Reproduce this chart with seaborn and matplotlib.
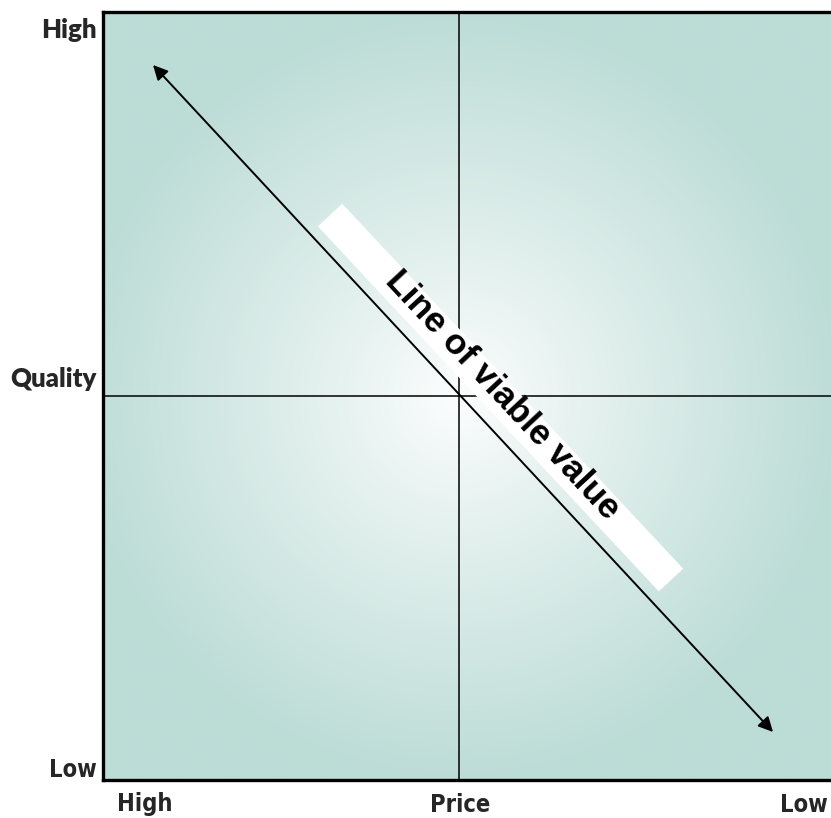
import numpy as np
import pandas as pd
import matplotlib
matplotlib.use("Agg")
import matplotlib.pyplot as plt
from matplotlib.colors import LinearSegmentedColormap
import seaborn as sns

# ---- chart content ----
x_labels = ["High", "Price", "Low"]          # price axis (high on the left)
y_labels = ["High", "Quality", "Low"]        # quality axis (high on top)
x_range = [0, 732]
y_range = [0, 768]
cross_x = 356
cross_y = 384
arrow_start = [50, 715]
arrow_end = [670, 48]
band_x = [227, 568]
band_y = [565, 200]
band_text = "Line of viable value"

sns.set_theme(style="white")
plt.rcParams["font.family"] = ["Liberation Sans", "DejaVu Sans"]

W, H = 831, 818
fig = plt.figure(figsize=(W / 100, H / 100), dpi=100)
ax_left, ax_right, ax_top, ax_bot = 103, 835, 12, 780
ax = fig.add_axes([ax_left / W, 1 - ax_bot / H, (ax_right - ax_left) / W, (ax_bot - ax_top) / H])
ax.set_xlim(*x_range)
ax.set_ylim(*y_range)

# radial gradient background
gx = np.linspace(x_range[0], x_range[1], 400)
gy = np.linspace(y_range[0], y_range[1], 400)
GX, GY = np.meshgrid(gx, gy)
r = np.sqrt((GX - cross_x) ** 2 + (GY - cross_y) ** 2)
t = np.clip(r / 390.0, 0, 1) ** 0.9
cmap = LinearSegmentedColormap.from_list("g", ["#fdfefe", "#bcdcd6"])
ax.imshow(t, cmap=cmap, extent=[x_range[0], x_range[1], y_range[0], y_range[1]],
          origin="lower", aspect="auto", vmin=0, vmax=1, zorder=0)

# cross lines
ax.axvline(cross_x, color="black", lw=1.1, zorder=2)
ax.axhline(cross_y, color="black", lw=1.1, zorder=2)

# white band
band = pd.DataFrame({"x": band_x, "y": band_y})
sns.lineplot(data=band, x="x", y="y", ax=ax, color="white", lw=24, sort=False,
             solid_capstyle="butt", zorder=3)

# double-headed arrow
ax.annotate("", xy=arrow_end, xytext=arrow_start,
            arrowprops=dict(arrowstyle="<|-|>", color="black", lw=1.4,
                            mutation_scale=22, shrinkA=0, shrinkB=0), zorder=4)

# band text
tx = (band_x[0] + band_x[1]) / 2 + 2
ty = (band_y[0] + band_y[1]) / 2 + 2
ax.text(tx, ty, band_text, rotation=-47, rotation_mode="anchor", ha="center", va="center",
        fontsize=25.5, fontweight="bold", color="black", zorder=5,
        family="Liberation Sans")

ax.set_xticks([])
ax.set_yticks([])
ax.set_xlabel("")
ax.set_ylabel("")
for s in ["left", "top", "bottom"]:
    ax.spines[s].set_visible(True)
    ax.spines[s].set_color("black")
    ax.spines[s].set_linewidth(2.4)
ax.spines["right"].set_visible(False)

# axis labels
cond = dict(family="DejaVu Sans", stretch="condensed", fontweight="bold", fontsize=17)
fig.text(117 / W, 1 - 811 / H, x_labels[0], ha="left", va="baseline", **cond)
fig.text(460 / W, 1 - 812 / H, x_labels[1], ha="center", va="baseline", **cond)
fig.text(828 / W, 1 - 812 / H, x_labels[2], ha="right", va="baseline", **cond)

lato = dict(family=["Lato", "DejaVu Sans"], fontweight="heavy", fontsize=18.5)
fig.text(97 / W, 1 - 38 / H, y_labels[0], ha="right", va="baseline", **lato)
fig.text(97 / W, 1 - 387 / H, y_labels[1], ha="right", va="baseline", **lato)
fig.text(97 / W, 1 - 777 / H, y_labels[2], ha="right", va="baseline", **cond)

fig.savefig("out.png", dpi=100)
